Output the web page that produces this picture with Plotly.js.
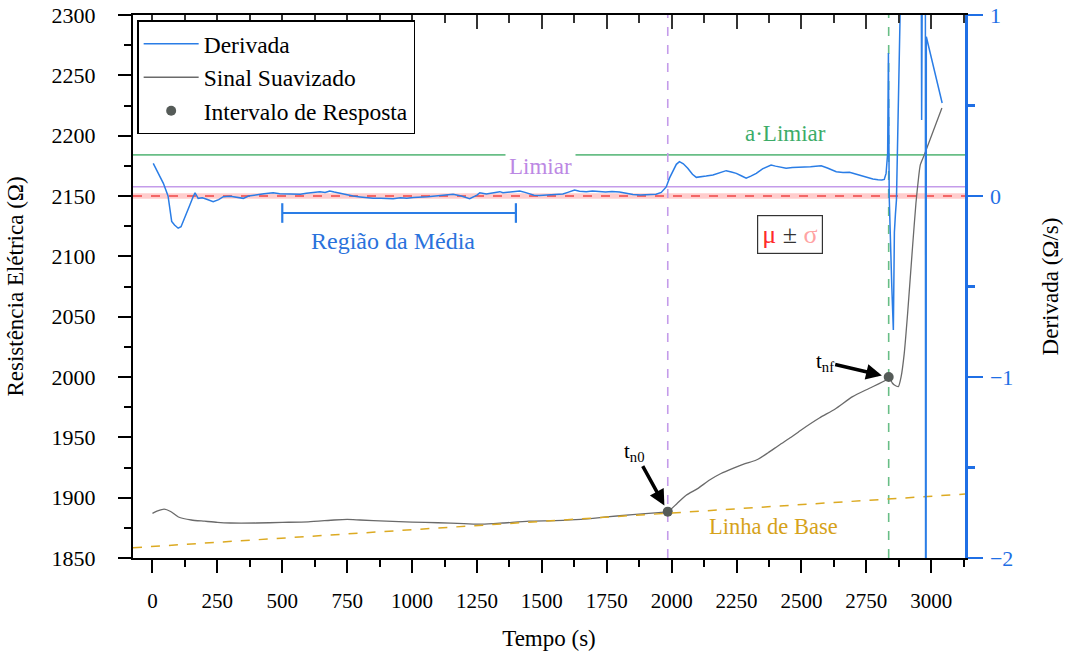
<!DOCTYPE html>
<html>
<head>
<meta charset="utf-8">
<script src="https://cdn.plot.ly/plotly-3.0.1.min.js"></script>
<style>html,body{margin:0;padding:0;background:#fff;}#chart{width:1072px;height:658px;}</style>
</head>
<body>
<div id="chart"></div>
<script>
// ---- Smoothed signal (Ω) ----
const tSmooth = [0, 20, 45, 70, 100, 150, 200, 250, 300, 400, 500, 600, 700, 750, 800, 900, 1000, 1100, 1200, 1270, 1350, 1450, 1550, 1650, 1750, 1850, 1950, 1985, 2020, 2056, 2100, 2146, 2190, 2236, 2280, 2326, 2370, 2415, 2460, 2499, 2569, 2630, 2697, 2760, 2826, 2836, 2850, 2858, 2873, 2884, 2896, 2909, 2928, 2941, 2950, 2958, 2973, 3041];
const rSmooth = [1887, 1889, 1890.5, 1888.5, 1884, 1881.5, 1880.5, 1879.5, 1879, 1879, 1879.5, 1880, 1881.5, 1882, 1881.5, 1880.5, 1879.8, 1879.2, 1878.5, 1878, 1879, 1880.5, 1881, 1882, 1884, 1886, 1887.6, 1888.4, 1895, 1902, 1907.5, 1914.6, 1920, 1924.3, 1928, 1931.2, 1937, 1943.7, 1950, 1956.1, 1966, 1973.5, 1983.7, 1990.5, 1997.5, 2000, 1995, 1993.4, 1992, 2000.3, 2019.6, 2052.8, 2108, 2144, 2163, 2176, 2184, 2223];

// ---- Derivative (Ω/s) ----
const tDeriv = [3, 20, 42, 60, 67, 74, 85, 99, 110, 119, 132, 144, 155, 164, 176, 192, 209, 222, 234, 255, 273, 300, 325, 350, 370, 388, 410, 430, 465, 490, 517, 545, 570, 593, 620, 645, 665, 683, 700, 722, 745, 773, 800, 825, 850, 880, 905, 927, 955, 980, 1005, 1030, 1060, 1090, 1120, 1158, 1190, 1222, 1250, 1261, 1286, 1310, 1338, 1350, 1380, 1415, 1435, 1453, 1470, 1490, 1517, 1545, 1565, 1581, 1600, 1626, 1645, 1671, 1695, 1722, 1745, 1770, 1799, 1825, 1851, 1880, 1915, 1940, 1960, 1979, 1992, 2005, 2018, 2030, 2045, 2062, 2080, 2095, 2115, 2133, 2159, 2178, 2195, 2210, 2230, 2249, 2268, 2287, 2305, 2326, 2350, 2370, 2383, 2400, 2420, 2441, 2465, 2492, 2515, 2535, 2555, 2576, 2600, 2620, 2634, 2660, 2685, 2705, 2723, 2745, 2760, 2775, 2795, 2810, 2819, 2826, 2832, 2835, 2838, 2842, 2848, 2854, 2858, 2862, 2866, 2880, 2890, 2920, 2950, 2960, 2963, 2965, 2968, 2977, 2979, 2981, 3042];
const dDeriv = [0.18, 0.13, 0.07, 0.0, -0.06, -0.14, -0.16, -0.178, -0.17, -0.14, -0.1, -0.05, -0.01, 0.018, -0.013, -0.01, -0.018, -0.025, -0.031, -0.02, -0.004, -0.002, -0.008, -0.013, 0.0, 0.005, 0.008, 0.012, 0.018, 0.012, 0.011, 0.014, 0.01, 0.015, 0.02, 0.024, 0.02, 0.028, 0.022, 0.015, 0.008, 0.0, -0.005, -0.01, -0.013, -0.012, -0.015, -0.015, -0.01, -0.012, -0.008, -0.007, -0.004, 0.0, 0.004, 0.009, 0.0, -0.015, 0.005, 0.018, 0.011, 0.016, 0.024, 0.018, 0.022, 0.028, 0.02, 0.011, 0.004, 0.003, 0.005, 0.008, 0.006, 0.011, 0.02, 0.033, 0.026, 0.024, 0.028, 0.026, 0.022, 0.025, 0.022, 0.015, 0.008, 0.005, 0.006, 0.01, 0.02, 0.05, 0.1, 0.14, 0.175, 0.19, 0.178, 0.153, 0.12, 0.103, 0.105, 0.11, 0.116, 0.125, 0.13, 0.14, 0.133, 0.125, 0.112, 0.098, 0.11, 0.125, 0.15, 0.165, 0.171, 0.165, 0.16, 0.153, 0.158, 0.158, 0.16, 0.162, 0.165, 0.167, 0.155, 0.14, 0.134, 0.13, 0.131, 0.123, 0.116, 0.105, 0.1, 0.094, 0.09, 0.088, 0.092, 0.125, 0.235, 0.79, 0.0, -0.25, -0.5, -0.74, -0.2, -0.1, -0.02, 1.0, 3.0, 4.0, 3.0, 2.0, 0.42, 0.72, 2.0, 3.0, -6.0, 0.88, 0.514];

// ---- Response interval (t_n0, t_nf) ----
const tEvents = [1985, 2836];
const rEvents = [1888.4, 2000];
const eventLabels = ['t<sub>n0</sub>', 't<sub>nf</sub>'];

// ---- Baseline ----
const tBase = [-75, 3130];
const rBase = [1858.5, 1903];

// ---- Thresholds (derivative axis) ----
const mu = [0.0];
const sigma = [0.015];
const limiar = [0.051];
const aLimiar = [0.227];

// ---- Mean region ----
const tRegion = [500, 1400];
const dRegion = [-0.094, -0.094];

const serif = '"Liberation Serif", "Times New Roman", Times, serif';
const blue = '#2a7de6';
const axisBlue = '#1f6fe5';
const green = 'rgb(104,190,134)';
const purple = 'rgb(196,156,234)';

const traces = [
  {x: tDeriv, y: dDeriv, xaxis: 'x', yaxis: 'y2', type: 'scatter', mode: 'lines', name: 'Derivada',
   line: {color: blue, width: 1.5}},
  {x: tSmooth, y: rSmooth, type: 'scatter', mode: 'lines', name: 'Sinal Suavizado',
   line: {color: '#6a6a6a', width: 1.3, shape: 'spline', smoothing: 0.6}},
  {x: tEvents, y: rEvents, type: 'scatter', mode: 'markers', name: 'Intervalo de Resposta',
   marker: {color: '#555b58', size: 10}},
  {x: tBase, y: rBase, type: 'scatter', mode: 'lines', showlegend: false, hoverinfo: 'skip',
   line: {color: '#dcaa22', width: 1.5, dash: 'dash'}},
  {x: tRegion, y: dRegion, xaxis: 'x', yaxis: 'y2', type: 'scatter', mode: 'lines+markers', showlegend: false,
   line: {color: blue, width: 2.2},
   marker: {symbol: 'line-ns', size: 14, line: {color: blue, width: 2.2}}},
  {x: tEvents, y: rEvents, xaxis: 'x2', yaxis: 'y', type: 'scatter', mode: 'markers', showlegend: false,
   hoverinfo: 'skip', marker: {opacity: 0}}
];

const shapes = [
  {type: 'rect', xref: 'paper', yref: 'y2', x0: 0, x1: 1, y0: mu[0] - sigma[0], y1: mu[0] + sigma[0],
   fillcolor: 'rgba(255,130,130,0.4)', line: {width: 0}, layer: 'below'},
  {type: 'line', xref: 'paper', yref: 'y2', x0: 0, x1: 1, y0: mu[0], y1: mu[0],
   line: {color: '#f04545', width: 1.5, dash: 'dash'}, layer: 'below'},
  {type: 'line', xref: 'paper', yref: 'y2', x0: 0, x1: 1, y0: limiar[0], y1: limiar[0],
   line: {color: purple, width: 1.6}, layer: 'below'},
  {type: 'line', xref: 'paper', yref: 'y2', x0: 0, x1: 1, y0: aLimiar[0], y1: aLimiar[0],
   line: {color: green, width: 1.6}, layer: 'below'},
  {type: 'line', xref: 'x', yref: 'paper', x0: tEvents[0], x1: tEvents[0], y0: 0, y1: 1,
   line: {color: purple, width: 1.6, dash: 'dash'}, layer: 'below'},
  {type: 'line', xref: 'x', yref: 'paper', x0: tEvents[1], x1: tEvents[1], y0: 0, y1: 1,
   line: {color: green, width: 1.6, dash: 'dash'}, layer: 'below'}
];

const annotations = [
  {xref: 'x', yref: 'y2', x: 2437, y: 0.347, text: 'a·Limiar', showarrow: false,
   font: {family: serif, size: 23, color: 'rgb(60,172,104)'}},
  {xref: 'x', yref: 'y2', x: 1495, y: 0.165, text: 'Limiar', showarrow: false, bgcolor: '#ffffff', borderpad: 3,
   font: {family: serif, size: 23, color: 'rgb(188,136,228)'}},
  {xref: 'x', yref: 'y2', x: 926, y: -0.25, text: 'Região da Média', showarrow: false,
   font: {family: serif, size: 24, color: '#2a72dc'}},
  {xref: 'x', yref: 'y2', x: 2454, y: -0.21,
   text: '<span style="color:#ff2b2b">μ</span> ± <span style="color:#ffa3a3">σ</span>', showarrow: false,
   bgcolor: '#ffffff', bordercolor: '#333333', borderwidth: 1.2, borderpad: 4,
   font: {family: serif, size: 26, color: '#333333'}},
  {xref: 'x', yref: 'y', x: 2392, y: 1876.5, text: 'Linha de Base', showarrow: false,
   font: {family: serif, size: 22.5, color: '#d6a21a'}},
  {xref: 'x', yref: 'y', x: tEvents[0], y: rEvents[0], text: eventLabels[0], showarrow: true,
   ax: -33, ay: -60, arrowhead: 2, arrowsize: 0.9, arrowwidth: 3.5, arrowcolor: '#000', standoff: 7,
   font: {family: serif, size: 21, color: '#000'}},
  {xref: 'x', yref: 'y', x: tEvents[1], y: rEvents[1], text: eventLabels[1], showarrow: true,
   ax: -64, ay: -15, arrowhead: 2, arrowsize: 0.9, arrowwidth: 3.5, arrowcolor: '#000', standoff: 7,
   font: {family: serif, size: 21, color: '#000'}}
];

const layout = {
  width: 1072, height: 658,
  margin: {l: 133, r: 107, t: 15, b: 100},
  paper_bgcolor: '#fff', plot_bgcolor: '#fff',
  font: {family: serif, size: 21, color: '#000'},
  showlegend: true,
  legend: {x: 0.005, y: 0.99, xanchor: 'left', yanchor: 'top', bgcolor: '#fff',
           bordercolor: '#000', borderwidth: 1.5, font: {family: serif, size: 23.5, color: '#000'},
           itemwidth: 55, tracegroupgap: 0},
  xaxis: {range: [-75, 3130], tick0: 0, dtick: 250, showgrid: false, zeroline: false,
          showline: true, linecolor: '#000', linewidth: 2,
          ticks: 'outside', ticklen: 13, tickwidth: 2, tickcolor: '#000', ticklabelstandoff: 10,
          minor: {dtick: 125, tick0: 0, ticks: 'outside', ticklen: 7, tickwidth: 2, tickcolor: '#000'},
          tickfont: {family: serif, size: 21},
          title: {text: 'Tempo (s)', font: {family: serif, size: 23}, standoff: 18}},
  xaxis2: {overlaying: 'x', side: 'top', matches: 'x', range: [-75, 3130], tick0: 0, dtick: 250,
           showgrid: false, zeroline: false, showline: true, linecolor: '#000', linewidth: 2,
           ticks: 'inside', ticklen: 14, tickwidth: 2, tickcolor: '#333', showticklabels: false,
           minor: {dtick: 125, tick0: 0, ticks: 'inside', ticklen: 8, tickwidth: 2, tickcolor: '#333'}},
  yaxis: {range: [1850, 2300], dtick: 50, showgrid: false, zeroline: false,
          showline: true, linecolor: '#000', linewidth: 2,
          ticks: 'outside', ticklen: 13, tickwidth: 2, tickcolor: '#000', ticklabelstandoff: 18,
          minor: {dtick: 25, ticks: 'outside', ticklen: 7, tickwidth: 2, tickcolor: '#000'},
          tickfont: {family: serif, size: 22},
          title: {text: 'Resistência Elétrica (Ω)', font: {family: serif, size: 23}, standoff: 22}},
  yaxis2: {overlaying: 'y', side: 'right', range: [-2, 1], dtick: 1, showgrid: false, zeroline: false,
           showline: true, linecolor: axisBlue, linewidth: 2.5,
           ticks: 'outside', ticklen: 15, tickwidth: 2.5, tickcolor: axisBlue, ticklabelstandoff: 3,
           minor: {dtick: 0.5, ticks: 'outside', ticklen: 7, tickwidth: 2.5, tickcolor: axisBlue},
           tickfont: {family: serif, size: 22, color: axisBlue},
           title: {text: 'Derivada (Ω/s)', font: {family: serif, size: 23, color: '#000'}, standoff: 30}},
  shapes: shapes,
  annotations: annotations
};

Plotly.newPlot('chart', traces, layout, {displayModeBar: false, staticPlot: true});
</script>
</body>
</html>
